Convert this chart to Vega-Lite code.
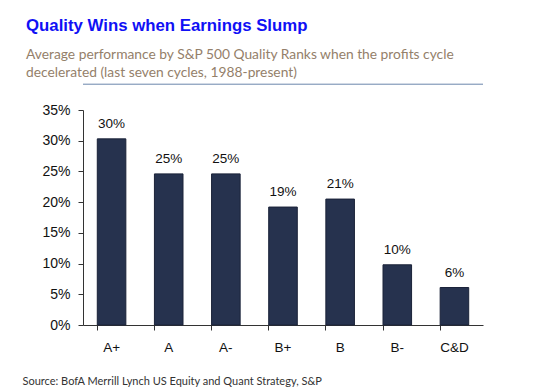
{
  "$schema": "https://vega.github.io/schema/vega-lite/v6.json",
  "width": 400,
  "height": 215,
  "autosize": {"type": "none"},
  "padding": {"left": 83, "top": 110, "right": 57, "bottom": 66},
  "background": "white",
  "config": {"view": {"stroke": null}, "font": "Liberation Sans"},
  "title": {
    "text": "Quality Wins when Earnings Slump",
    "subtitle": ["Average performance by S&P 500 Quality Ranks when the profits cycle", "decelerated (last seven cycles, 1988-present)"],
    "anchor": "start",
    "frame": "group",
    "dx": -57,
    "offset": 4,
    "font": "Liberation Sans",
    "fontSize": 16.8,
    "fontWeight": "bold",
    "color": "#1010F5",
    "subtitleFont": "Lato",
    "subtitleFontSize": 13.8,
    "subtitleColor": "#94806A",
    "subtitleLineHeight": 18,
    "subtitlePadding": 13
  },
  "data": {
    "values": [
      {"rank": "A+", "perf": 30.3, "label": "30%"},
      {"rank": "A", "perf": 24.6, "label": "25%"},
      {"rank": "A-", "perf": 24.6, "label": "25%"},
      {"rank": "B+", "perf": 19.2, "label": "19%"},
      {"rank": "B", "perf": 20.5, "label": "21%"},
      {"rank": "B-", "perf": 9.8, "label": "10%"},
      {"rank": "C&D", "perf": 6.1, "label": "6%"}
    ]
  },
  "encoding": {
    "x": {
      "field": "rank",
      "type": "nominal",
      "sort": null,
      "scale": {"paddingInner": 0.5, "paddingOuter": 0.25},
      "axis": {
        "title": "Source: BofA Merrill Lynch US Equity and Quant Strategy, S&P",
        "titleFont": "Lato",
        "titleFontSize": 11,
        "titleFontWeight": "normal",
        "titleColor": "#333333",
        "titleAnchor": "start",
        "titleAlign": "left",
        "titleBaseline": "alphabetic",
        "titleX": -61,
        "titleY": 59,
        "labelAngle": 0,
        "labelFontSize": 13.5,
        "labelColor": "#111111",
        "labelPadding": 10,
        "bandPosition": 0,
        "ticks": true,
        "tickSize": 5,
        "tickColor": "#333333",
        "domainColor": "#333333"
      }
    },
    "y": {
      "field": "perf",
      "type": "quantitative",
      "scale": {"domain": [0, 35], "nice": false},
      "axis": {
        "title": null,
        "values": [0, 5, 10, 15, 20, 25, 30, 35],
        "labelExpr": "datum.value + '%'",
        "labelFontSize": 14,
        "labelColor": "#111111",
        "labelPadding": 8,
        "grid": false,
        "tickSize": 5,
        "tickColor": "#333333",
        "domainColor": "#333333"
      }
    }
  },
  "layer": [
    {"mark": {"type": "bar", "color": "#26324E", "stroke": "#1A2238", "strokeWidth": 1}},
    {
      "mark": {"type": "text", "baseline": "alphabetic", "dy": -11, "fontSize": 13.5, "color": "#111111"},
      "encoding": {"text": {"field": "label"}}
    },
    {
      "data": {"values": [{"level": 39.2}]},
      "mark": {"type": "rule", "color": "#6A86AC", "strokeWidth": 1},
      "encoding": {"y": {"field": "level", "type": "quantitative"}, "x": null}
    }
  ]
}
